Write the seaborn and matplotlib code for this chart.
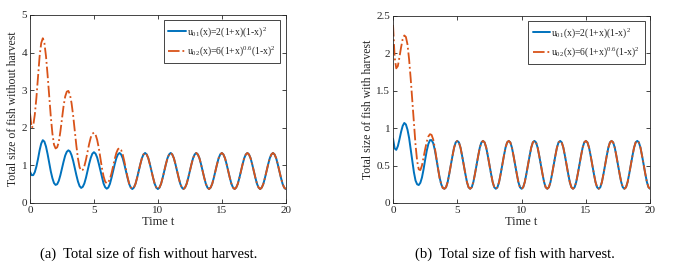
import matplotlib
matplotlib.use("Agg")
import matplotlib.pyplot as plt
import seaborn as sns
import pandas as pd

# time grid (step 0.125 from 0 to 20)
t = [i * 0.125 for i in range(161)]

# panel (a) without harvest
blue_a = [0.83, 0.74, 0.74, 0.82, 0.97, 1.17, 1.40, 1.58,
          1.67, 1.63, 1.50, 1.30, 1.07, 0.84, 0.66, 0.53,
          0.48, 0.50, 0.59, 0.74, 0.92, 1.10, 1.26, 1.36,
          1.40, 1.37, 1.27, 1.12, 0.93, 0.74, 0.57, 0.45,
          0.40, 0.43, 0.52, 0.67, 0.86, 1.04, 1.20, 1.31,
          1.35, 1.31, 1.21, 1.05, 0.87, 0.68, 0.52, 0.42,
          0.38, 0.41, 0.51, 0.67, 0.85, 1.03, 1.19, 1.29,
          1.33, 1.29, 1.19, 1.03, 0.85, 0.67, 0.51, 0.41,
          0.37, 0.41, 0.51, 0.67, 0.85, 1.03, 1.19, 1.29,
          1.33, 1.29, 1.19, 1.03, 0.85, 0.67, 0.51, 0.41,
          0.37, 0.41, 0.51, 0.67, 0.85, 1.03, 1.19, 1.29,
          1.33, 1.29, 1.19, 1.03, 0.85, 0.67, 0.51, 0.41,
          0.37, 0.41, 0.51, 0.67, 0.85, 1.03, 1.19, 1.29,
          1.33, 1.29, 1.19, 1.03, 0.85, 0.67, 0.51, 0.41,
          0.37, 0.41, 0.51, 0.67, 0.85, 1.03, 1.19, 1.29,
          1.33, 1.29, 1.19, 1.03, 0.85, 0.67, 0.51, 0.41,
          0.37, 0.41, 0.51, 0.67, 0.85, 1.03, 1.19, 1.29,
          1.33, 1.29, 1.19, 1.03, 0.85, 0.67, 0.51, 0.41,
          0.37, 0.41, 0.51, 0.67, 0.85, 1.03, 1.19, 1.29,
          1.33, 1.29, 1.19, 1.03, 0.85, 0.67, 0.51, 0.41,
          0.37]
orange_a = [2.38, 2.00, 2.05, 2.35, 2.80, 3.35, 3.90, 4.25,
            4.38, 4.25, 3.90, 3.40, 2.85, 2.30, 1.85, 1.55,
            1.45, 1.48, 1.62, 1.90, 2.25, 2.58, 2.83, 2.96,
            2.98, 2.88, 2.65, 2.32, 1.92, 1.52, 1.18, 0.95,
            0.86, 0.88, 0.98, 1.15, 1.36, 1.57, 1.74, 1.84,
            1.87, 1.82, 1.68, 1.47, 1.20, 0.93, 0.71, 0.57,
            0.52, 0.55, 0.64, 0.79, 0.98, 1.17, 1.33, 1.43,
            1.46, 1.41, 1.29, 1.11, 0.90, 0.69, 0.52, 0.42,
            0.38, 0.41, 0.51, 0.67, 0.85, 1.03, 1.19, 1.29,
            1.33, 1.29, 1.19, 1.03, 0.85, 0.67, 0.51, 0.41,
            0.37, 0.41, 0.51, 0.67, 0.85, 1.03, 1.19, 1.29,
            1.33, 1.29, 1.19, 1.03, 0.85, 0.67, 0.51, 0.41,
            0.37, 0.41, 0.51, 0.67, 0.85, 1.03, 1.19, 1.29,
            1.33, 1.29, 1.19, 1.03, 0.85, 0.67, 0.51, 0.41,
            0.37, 0.41, 0.51, 0.67, 0.85, 1.03, 1.19, 1.29,
            1.33, 1.29, 1.19, 1.03, 0.85, 0.67, 0.51, 0.41,
            0.37, 0.41, 0.51, 0.67, 0.85, 1.03, 1.19, 1.29,
            1.33, 1.29, 1.19, 1.03, 0.85, 0.67, 0.51, 0.41,
            0.37, 0.41, 0.51, 0.67, 0.85, 1.03, 1.19, 1.29,
            1.33, 1.29, 1.19, 1.03, 0.85, 0.67, 0.51, 0.41,
            0.37]

# panel (b) with harvest
blue_b = [0.86, 0.73, 0.71, 0.76, 0.85, 0.95, 1.03, 1.07,
          1.05, 0.98, 0.87, 0.72, 0.56, 0.41, 0.30, 0.25,
          0.24, 0.27, 0.34, 0.45, 0.58, 0.70, 0.79, 0.84,
          0.84, 0.80, 0.71, 0.59, 0.46, 0.34, 0.25, 0.20,
          0.19, 0.21, 0.28, 0.39, 0.51, 0.63, 0.74, 0.81,
          0.83, 0.81, 0.74, 0.63, 0.51, 0.39, 0.28, 0.21,
          0.19, 0.21, 0.28, 0.39, 0.51, 0.63, 0.74, 0.81,
          0.83, 0.81, 0.74, 0.63, 0.51, 0.39, 0.28, 0.21,
          0.19, 0.21, 0.28, 0.39, 0.51, 0.63, 0.74, 0.81,
          0.83, 0.81, 0.74, 0.63, 0.51, 0.39, 0.28, 0.21,
          0.19, 0.21, 0.28, 0.39, 0.51, 0.63, 0.74, 0.81,
          0.83, 0.81, 0.74, 0.63, 0.51, 0.39, 0.28, 0.21,
          0.19, 0.21, 0.28, 0.39, 0.51, 0.63, 0.74, 0.81,
          0.83, 0.81, 0.74, 0.63, 0.51, 0.39, 0.28, 0.21,
          0.19, 0.21, 0.28, 0.39, 0.51, 0.63, 0.74, 0.81,
          0.83, 0.81, 0.74, 0.63, 0.51, 0.39, 0.28, 0.21,
          0.19, 0.21, 0.28, 0.39, 0.51, 0.63, 0.74, 0.81,
          0.83, 0.81, 0.74, 0.63, 0.51, 0.39, 0.28, 0.21,
          0.19, 0.21, 0.28, 0.39, 0.51, 0.63, 0.74, 0.81,
          0.83, 0.81, 0.74, 0.63, 0.51, 0.39, 0.28, 0.21,
          0.19]
orange_b = [2.38, 1.95, 1.80, 1.83, 1.95, 2.08, 2.19, 2.24,
            2.22, 2.12, 1.92, 1.66, 1.36, 1.05, 0.78, 0.56,
            0.45, 0.44, 0.50, 0.61, 0.72, 0.82, 0.89, 0.92,
            0.91, 0.85, 0.74, 0.60, 0.46, 0.33, 0.25, 0.20,
            0.19, 0.21, 0.28, 0.39, 0.51, 0.63, 0.74, 0.81,
            0.83, 0.81, 0.74, 0.63, 0.51, 0.39, 0.28, 0.21,
            0.19, 0.21, 0.28, 0.39, 0.51, 0.63, 0.74, 0.81,
            0.83, 0.81, 0.74, 0.63, 0.51, 0.39, 0.28, 0.21,
            0.19, 0.21, 0.28, 0.39, 0.51, 0.63, 0.74, 0.81,
            0.83, 0.81, 0.74, 0.63, 0.51, 0.39, 0.28, 0.21,
            0.19, 0.21, 0.28, 0.39, 0.51, 0.63, 0.74, 0.81,
            0.83, 0.81, 0.74, 0.63, 0.51, 0.39, 0.28, 0.21,
            0.19, 0.21, 0.28, 0.39, 0.51, 0.63, 0.74, 0.81,
            0.83, 0.81, 0.74, 0.63, 0.51, 0.39, 0.28, 0.21,
            0.19, 0.21, 0.28, 0.39, 0.51, 0.63, 0.74, 0.81,
            0.83, 0.81, 0.74, 0.63, 0.51, 0.39, 0.28, 0.21,
            0.19, 0.21, 0.28, 0.39, 0.51, 0.63, 0.74, 0.81,
            0.83, 0.81, 0.74, 0.63, 0.51, 0.39, 0.28, 0.21,
            0.19, 0.21, 0.28, 0.39, 0.51, 0.63, 0.74, 0.81,
            0.83, 0.81, 0.74, 0.63, 0.51, 0.39, 0.28, 0.21,
            0.19]

label1 = r"u$_{01}$(x)=2(1+x)(1-x)$^{2}$"
label2 = r"u$_{02}$(x)=6(1+x)$^{0.6}$(1-x)$^{2}$"
xticks = [0, 5, 10, 15, 20]
yticks_a = [0, 1, 2, 3, 4, 5]
yticks_b = [0, 0.5, 1, 1.5, 2, 2.5]
yticklabels_b = ["0", "0.5", "1", "1.5", "2", "2.5"]

sns.set_style("ticks")
plt.rcParams["font.family"] = ["Liberation Serif", "DejaVu Serif"]
plt.rcParams["mathtext.fontset"] = "custom"
plt.rcParams["mathtext.rm"] = "Liberation Serif"
plt.rcParams["mathtext.default"] = "regular"

dark = "#262626"
blue = "#0072BD"
orange = "#D95319"

fig = plt.figure(figsize=(6.73, 2.71), dpi=100)
ax1 = fig.add_axes([0.0446, 0.251, 0.380, 0.694])
ax2 = fig.add_axes([0.584, 0.251, 0.382, 0.690])

panels = [
    (ax1, blue_a, orange_a, yticks_a, [str(v) for v in yticks_a], 5,
     "Total size of fish without harvest", "(a)  Total size of fish without harvest.", 0.221),
    (ax2, blue_b, orange_b, yticks_b, yticklabels_b, 2.5,
     "Total size of fish with harvest", "(b)  Total size of fish with harvest.", 0.765),
]

for ax, yb, yo, yt, ytl, ymax, ylab, cap, capx in panels:
    df = pd.DataFrame({"t": t, "b": yb, "o": yo})
    sns.lineplot(data=df, x="t", y="b", ax=ax, color=blue, lw=1.4, label=label1)
    sns.lineplot(data=df, x="t", y="o", ax=ax, color=orange, lw=1.3,
                 linestyle="-.", label=label2)
    ax.set_xlim(0, 20)
    ax.set_ylim(0, ymax)
    ax.set_xticks(xticks)
    ax.set_yticks(yt)
    ax.set_yticklabels(ytl)
    ax.tick_params(direction="in", top=True, right=True, length=3, width=0.6,
                   labelsize=8, colors=dark, pad=2)
    for s in ax.spines.values():
        s.set_visible(True)
        s.set_linewidth(0.6)
        s.set_color(dark)
    ax.set_xlabel("Time t", fontsize=9, color=dark, labelpad=1)
    ax.set_ylabel(ylab, fontsize=8.5, color=dark, labelpad=2)
    leg = ax.legend(loc="upper right", fontsize=7, frameon=True, fancybox=False,
                    edgecolor=dark, framealpha=1, handlelength=1.8,
                    handletextpad=0.15, borderpad=0.45, labelspacing=0.6,
                    borderaxespad=0.55)
    leg.get_frame().set_linewidth(0.6)
    fig.text(capx, 0.063, cap, ha="center", va="center",
             fontsize=10.5, color="black")

plt.savefig("out.png", dpi=100)
